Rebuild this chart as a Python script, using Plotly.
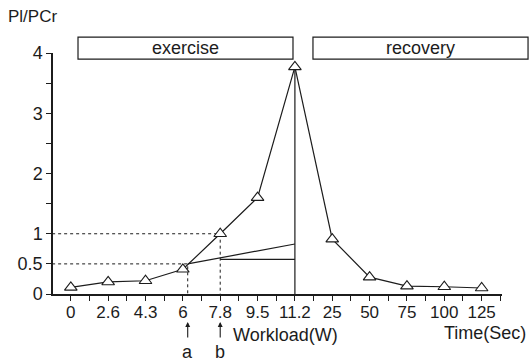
import plotly.graph_objects as go

# Pi/PCr ratio during incremental exercise (workload, W) and recovery (time, s)
tick_labels = ["0", "2.6", "4.3", "6", "7.8", "9.5", "11.2", "25", "50", "75", "100", "125"]
ratio = [0.11, 0.20, 0.22, 0.41, 1.00, 1.60, 3.77, 0.91, 0.28, 0.13, 0.12, 0.10]

# threshold construction: breakpoints a and b (category position) and their levels
thr_x = [3.13, 4.0]
thr_y = [0.5, 1.0]
thr_names = ["a", "b"]
# extrapolated slope lines drawn up to the end of exercise
fan_x = [3.13, 6.0]
fan_y = [0.5, 0.83]
flat_x = [4.0, 6.0]
flat_y = [0.575, 0.575]

idx = list(range(len(tick_labels)))
ink = "#1c1c1c"
font = "Liberation Sans, Arial, sans-serif"

fig = go.Figure()

# dotted guide lines
for xv, yv in zip(thr_x, thr_y):
    fig.add_trace(go.Scatter(x=[-0.5, xv, xv], y=[yv, yv, 0], mode="lines",
                             line=dict(color=ink, width=1, dash="3px,3px"),
                             hoverinfo="skip", showlegend=False))

fig.add_trace(go.Scatter(x=fan_x, y=fan_y, mode="lines",
                         line=dict(color=ink, width=1.2), showlegend=False))
fig.add_trace(go.Scatter(x=flat_x, y=flat_y, mode="lines",
                         line=dict(color=ink, width=1.2), showlegend=False))
# end of exercise marker line
fig.add_trace(go.Scatter(x=[idx[6], idx[6]], y=[0, ratio[6]], mode="lines",
                         line=dict(color=ink, width=1.2), showlegend=False))

fig.add_trace(go.Scatter(
    x=idx, y=ratio, mode="lines+markers",
    line=dict(color=ink, width=1.2),
    marker=dict(symbol="triangle-up", size=11, color="white",
                line=dict(color=ink, width=1.1)),
    showlegend=False,
))

# y ticks every 0.5, labelled at 0, 0.5, 1, 2, 3, 4
y_vals = [0, 0.5, 1, 1.5, 2, 2.5, 3, 3.5, 4]
y_text = ["0", "0.5", "1", "", "2", "", "3", "", "4"]
x_vals = [i * 0.5 for i in range(0, 24)]
x_text = [tick_labels[int(v)] if v == int(v) else "" for v in x_vals]

fig.update_layout(
    width=530, height=362,
    margin=dict(l=53, r=28, t=53, b=68),
    paper_bgcolor="white", plot_bgcolor="white",
    font=dict(family=font, color=ink),
    xaxis=dict(range=[-0.477, 11.545], tickmode="array", tickvals=x_vals, ticktext=x_text,
               ticks="outside", ticklen=5, tickwidth=1.2, tickcolor=ink,
               showline=True, linecolor=ink, linewidth=1.5, automargin=False,
               ticklabelstandoff=-3,
               showgrid=False, zeroline=False, tickfont=dict(size=17)),
    yaxis=dict(range=[0, 4], tickmode="array", tickvals=y_vals, ticktext=y_text,
               ticks="outside", ticklen=5, tickwidth=1.2, tickcolor=ink,
               showline=True, linecolor=ink, linewidth=1.5, automargin=False,
               showgrid=False, zeroline=False, tickfont=dict(size=18)),
)

# phase boxes above the plot
for x0, x1, label in [(0.0557, 0.5345, "exercise"), (0.579, 1.058, "recovery")]:
    fig.add_shape(type="rect", xref="paper", yref="paper", x0=x0, x1=x1, y0=0.975, y1=1.066,
                  line=dict(color=ink, width=1.2), fillcolor="white")
    fig.add_annotation(xref="paper", yref="paper", x=(x0 + x1) / 2, y=1.02,
                       xanchor="center", yanchor="middle",
                       text=label, showarrow=False, font=dict(size=18, color=ink))

# arrows marking thresholds a and b
for xv, name in zip(thr_x, thr_names):
    fig.add_annotation(x=xv, y=-0.116, xref="x", yref="paper", ax=0, ay=17,
                       text="", showarrow=True, arrowhead=2, arrowsize=0.9, arrowwidth=1.1,
                       arrowcolor=ink)
    fig.add_annotation(x=xv, y=-0.24, xref="x", yref="paper", yanchor="middle", text=name,
                       showarrow=False, font=dict(size=18, color=ink))

fig.add_annotation(xref="paper", yref="paper", x=-0.104, y=1.152, xanchor="left",
                   yanchor="middle", text="Pl/PCr", showarrow=False,
                   font=dict(size=17, color=ink))
fig.add_annotation(x=4.3, y=-0.17, xref="x", yref="paper", xanchor="left", yanchor="middle",
                   text="Workload(W)", showarrow=False, font=dict(size=18, color=ink))
fig.add_annotation(x=9.95, y=-0.162, xref="x", yref="paper", xanchor="left", yanchor="middle",
                   text="Time(Sec)", showarrow=False, font=dict(size=18, color=ink))

fig.write_html("out.html")
